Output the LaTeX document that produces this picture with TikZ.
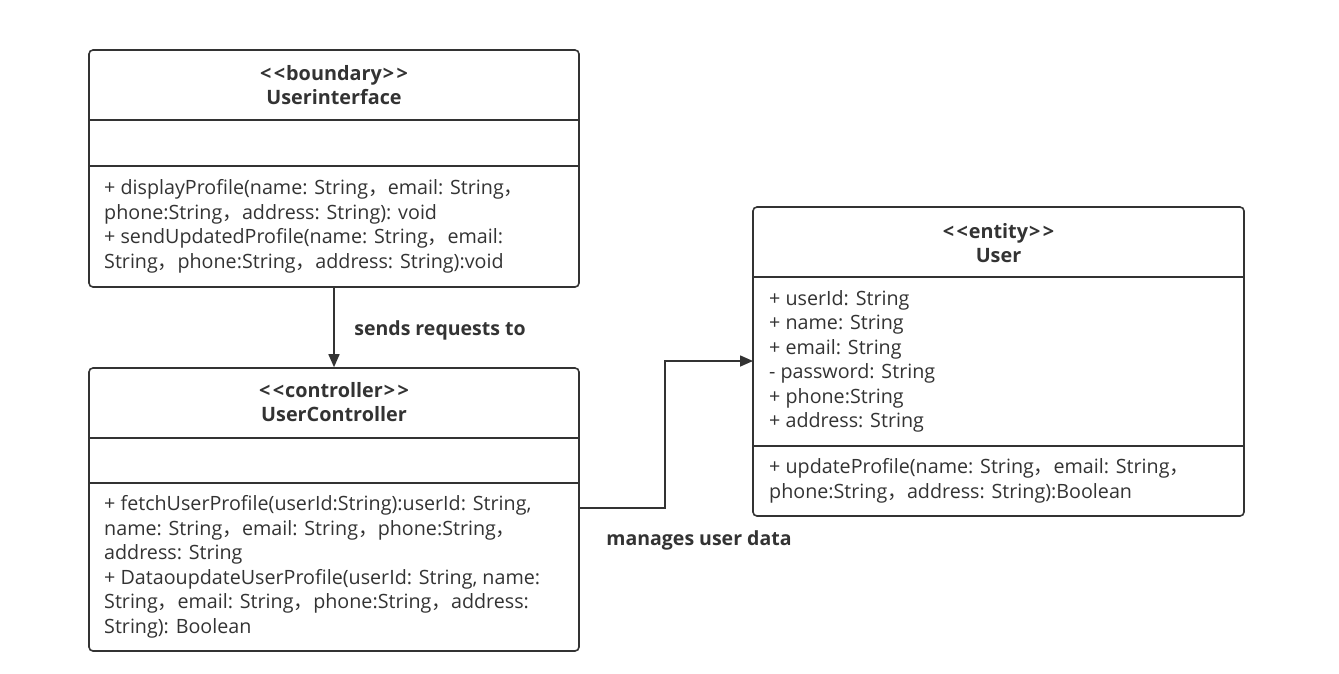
\documentclass[tikz,border=0pt]{standalone}
\usepackage{fontspec}
\setmainfont{Open Sans}
\newfontfamily\cjk{Noto Sans CJK SC}
\usetikzlibrary{arrows.meta}
\newcommand{\cm}{{\cjk ，}}
\newcommand{\lgl}{{<}\kern2.5pt{<}\kern1pt}
\newcommand{\rgl}{\kern1pt{>}\kern2.5pt{>}}
\definecolor{ink}{HTML}{333333}
\tikzset{
  x=1pt, y=-1pt,
  umlbox/.style={draw=ink, line width=1.6pt, rounded corners=4pt, inner sep=0pt},
  sep/.style={draw=ink, line width=1.6pt},
  hdr/.style={align=center, font=\fontsize{19.8}{24.5}\selectfont\bfseries, text=ink, inner sep=0pt},
  body/.style={align=left, anchor=west, font=\fontsize{19.7}{24.5}\selectfont, text=ink, inner sep=0pt},
  lbl/.style={font=\fontsize{19.5}{22}\selectfont\bfseries, text=ink, inner sep=0pt},
  arr/.style={draw=ink, line width=1.6pt, -{Triangle[length=13pt,width=11pt]}}
}
\begin{document}
\begin{tikzpicture}
\useasboundingbox (0,0) rectangle (1339,673);
% boundary box
\node[umlbox, minimum width=490pt, minimum height=237pt] (ui) at (334,168.5) {};
\draw[sep] (89,120) -- (579,120);
\draw[sep] (89,166) -- (579,166);
\node[hdr] (uih) at (334,85) {\lgl boundary\rgl\\Userinterface};
\node[body] (uim) at (104,226.5) {+ displayProfile(name: String\cm email: String\cm\\phone:String\cm address: String): void\\+ sendUpdatedProfile(name: String\cm email:\\String\cm phone:String\cm address: String):void};
% controller box
\node[umlbox, minimum width=490pt, minimum height=283pt] (ctrl) at (334,509.5) {};
\draw[sep] (89,438) -- (579,438);
\draw[sep] (89,483) -- (579,483);
\node[hdr] (ctrlh) at (334,402) {\lgl controller\rgl\\UserController};
\node[body] (ctrlm) at (104,567) {+ fetchUserProfile(userId:String):userId: String,\\name: String\cm email: String\cm phone:String\cm\\address: String\\+ DataoupdateUserProfile(userId: String, name:\\String\cm email: String\cm phone:String\cm address:\\String): Boolean};
% entity box
\node[umlbox, minimum width=491pt, minimum height=309pt] (ent) at (998.5,361.5) {};
\draw[sep] (753,277) -- (1244,277);
\draw[sep] (753,446) -- (1244,446);
\node[hdr] (enth) at (998.5,243) {\lgl entity\rgl\\User};
\node[body] (enta) at (769,361.5) {+ userId: String\\+ name: String\\+ email: String\\- password: String\\+ phone:String\\+ address: String};
\node[body] (entm) at (769,481) {+ updateProfile(name: String\cm email: String\cm\\phone:String\cm address: String):Boolean};
% connectors
\draw[arr] (ui.south) -- (ctrl.north);
\node[lbl] (l1) at (440,330) {sends requests to};
\coordinate (c1) at (579,508);
\coordinate (c2) at (753,361);
\draw[arr] (c1) -- (665,508) |- (c2);
\node[lbl] (l2) at (699,540) {manages user data};
\end{tikzpicture}
\end{document}
